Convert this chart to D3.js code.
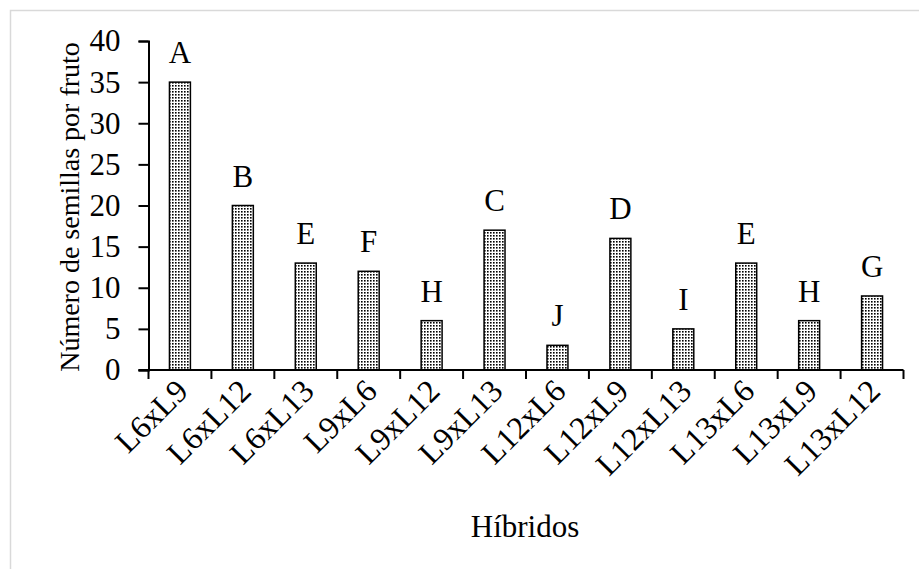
<!DOCTYPE html>
<html><head><meta charset="utf-8">
<script src="https://cdn.jsdelivr.net/npm/d3@7"></script>
<style>html,body{margin:0;padding:0;background:#fff;}svg{display:block;}</style>
</head><body>
<svg id="chart" width="919" height="569"></svg>
<script>
const categories = ["L6xL9","L6xL12","L6xL13","L9xL6","L9xL12","L9xL13","L12xL6","L12xL9","L12xL13","L13xL6","L13xL9","L13xL12"];
const values = [35,20,13,12,6,17,3,16,5,13,6,9];
const letters = ["A","B","E","F","H","C","J","D","I","E","H","G"];
const yTicks = [0,5,10,15,20,25,30,35,40];
const yTitle = "Número de semillas por fruto";
const xTitle = "Híbridos";

(function(){
const svg = d3.select("#chart");
const font = "'Liberation Serif','Times New Roman',serif";
const fs = 31;

svg.append("rect").attr("x",10.5).attr("y",10.5).attr("width",940).attr("height",600)
  .attr("fill","none").attr("stroke","#d9d9d9").attr("stroke-width",1.5);

const defs = svg.append("defs");
const pat = defs.append("pattern").attr("id","dots").attr("patternUnits","userSpaceOnUse")
  .attr("width",3).attr("height",3);
pat.append("rect").attr("width",3).attr("height",3).attr("fill","#fff");
pat.append("rect").attr("x",1).attr("y",1).attr("width",1.6).attr("height",1.6).attr("fill","#000");

const mLeft = 148.5, mRight = 903.5, mTop = 41, mBottom = 370;
const x = d3.scaleBand().domain(categories).range([mLeft,mRight]).paddingInner(0.667).paddingOuter(0.333);
const y = d3.scaleLinear().domain([0,40]).range([mBottom,mTop]);

svg.selectAll("rect.bar").data(values).enter().append("rect").attr("class","bar")
  .attr("x",(d,i)=>x(categories[i])).attr("width",x.bandwidth())
  .attr("y",d=>y(d)).attr("height",d=>mBottom-y(d))
  .attr("fill","url(#dots)").attr("stroke","#000").attr("stroke-width",1.5);

svg.selectAll("text.lab").data(values).enter().append("text").attr("class","lab")
  .attr("x",(d,i)=>x(categories[i])+x.bandwidth()/2).attr("y",d=>y(d)-19)
  .attr("text-anchor","middle").attr("font-family",font).attr("font-size",fs)
  .text((d,i)=>letters[i]);

const yAxis = d3.axisLeft(y).tickValues(yTicks).tickSize(10).tickPadding(18);
const gy = svg.append("g").attr("transform",`translate(${mLeft},0)`).call(yAxis);
gy.attr("font-family",null);
gy.select(".domain").attr("stroke-width",2);
gy.selectAll(".tick line").attr("stroke-width",2);
gy.selectAll("text").attr("font-family",font).attr("font-size",fs).attr("fill","#000");

const bounds = d3.range(categories.length+1).map(i=>mLeft+i*(mRight-mLeft)/categories.length);
const gx = svg.append("g");
gx.append("line").attr("x1",mLeft-10).attr("x2",mRight).attr("y1",mBottom).attr("y2",mBottom)
  .attr("stroke","#000").attr("stroke-width",2);
gx.selectAll("line.t").data(bounds).enter().append("line").attr("class","t")
  .attr("x1",d=>d).attr("x2",d=>d).attr("y1",mBottom).attr("y2",mBottom+9)
  .attr("stroke","#000").attr("stroke-width",2);
gx.selectAll("text").data(categories).enter().append("text")
  .attr("transform",d=>`translate(${x(d)+x.bandwidth()/2+10},${mBottom+23}) rotate(-45)`)
  .attr("text-anchor","end").attr("font-family",font).attr("font-size",32).text(d=>d);

svg.append("text").attr("transform",`translate(79,207) rotate(-90)`).attr("text-anchor","middle")
  .attr("font-family",font).attr("font-size",28).text(yTitle);
svg.append("text").attr("x",525).attr("y",537).attr("text-anchor","middle")
  .attr("font-family",font).attr("font-size",fs).text(xTitle);
})();
</script>
</body></html>
